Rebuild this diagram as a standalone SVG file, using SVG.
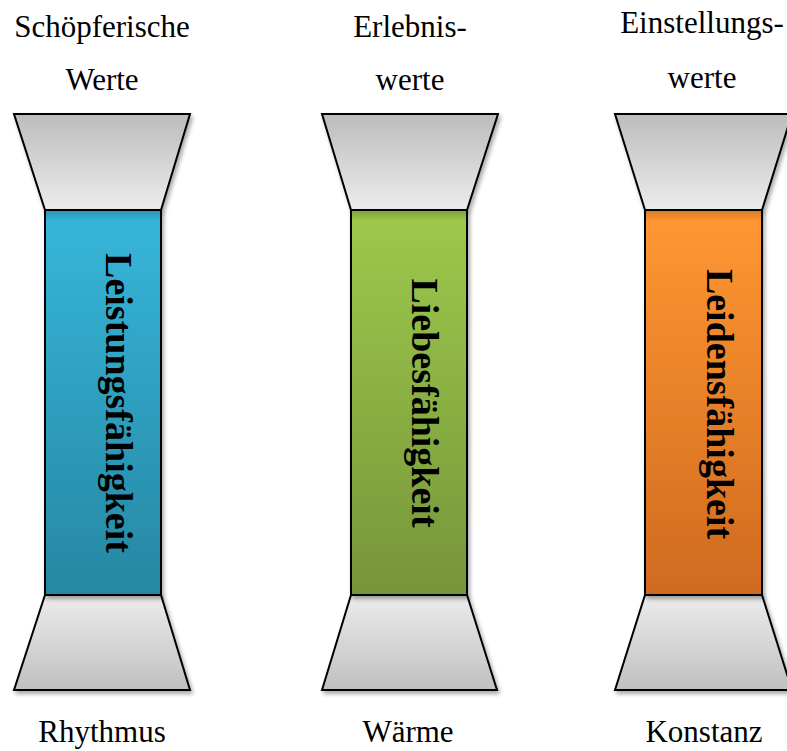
<svg xmlns="http://www.w3.org/2000/svg" width="787" height="751" viewBox="0 0 787 751">
  <defs>
    <linearGradient id="gTop" x1="0" y1="0" x2="0" y2="1">
      <stop offset="0" stop-color="#bcbcbc"/>
      <stop offset="1" stop-color="#ececec"/>
    </linearGradient>
    <linearGradient id="gBot" x1="0" y1="0" x2="0" y2="1">
      <stop offset="0" stop-color="#ececec"/>
      <stop offset="1" stop-color="#c0c0c0"/>
    </linearGradient>
    <linearGradient id="gBlue" x1="0" y1="0" x2="0" y2="1">
      <stop offset="0" stop-color="#2b95b3"/>
      <stop offset="0.03" stop-color="#36b5d9"/>
      <stop offset="1" stop-color="#2687a2"/>
    </linearGradient>
    <linearGradient id="gGreen" x1="0" y1="0" x2="0" y2="1">
      <stop offset="0" stop-color="#7fa33d"/>
      <stop offset="0.03" stop-color="#9cc84b"/>
      <stop offset="1" stop-color="#76953a"/>
    </linearGradient>
    <linearGradient id="gOrange" x1="0" y1="0" x2="0" y2="1">
      <stop offset="0" stop-color="#d77a26"/>
      <stop offset="0.03" stop-color="#ff9632"/>
      <stop offset="1" stop-color="#cf6a1f"/>
    </linearGradient>
    <filter id="shadow" x="-10%" y="-10%" width="130%" height="130%">
      <feGaussianBlur in="SourceAlpha" stdDeviation="2"/>
      <feOffset dx="2" dy="3" result="b"/>
      <feComponentTransfer><feFuncA type="linear" slope="0.35"/></feComponentTransfer>
      <feMerge><feMergeNode/><feMergeNode in="SourceGraphic"/></feMerge>
    </filter>
  </defs>
  <style>
    .shape { stroke: #000; stroke-width: 2; stroke-linejoin: miter; filter: url(#shadow); }
    .lbl { font-family: "Liberation Serif", "Times New Roman", serif; font-size: 31px; fill: #000; text-anchor: middle; }
    .vert { font-family: "Liberation Serif", "Times New Roman", serif; font-size: 38px; font-weight: bold; fill: #000; text-anchor: middle; }
  </style>

  <!-- Column 1: Schöpferische Werte -->
  <g id="col1">
    <text class="lbl" x="102" y="37">Schöpferische</text>
    <text class="lbl" x="102" y="90">Werte</text>
    <polygon class="shape" points="14,114 190,114 161,210 45,210" fill="url(#gTop)"/>
    <polygon class="shape" points="45,595 161,595 190,690 14,690" fill="url(#gBot)"/>
    <rect class="shape" x="45" y="210" width="116" height="385" fill="url(#gBlue)"/>
    <text class="vert" transform="translate(106,403) rotate(90)">Leistungsfähigkeit</text>
    <text class="lbl" x="102" y="742">Rhythmus</text>
  </g>

  <!-- Column 2: Erlebniswerte -->
  <g id="col2">
    <text class="lbl" x="410" y="37">Erlebnis-</text>
    <text class="lbl" x="410" y="90">werte</text>
    <polygon class="shape" points="322,114 498,114 467,210 351,210" fill="url(#gTop)"/>
    <polygon class="shape" points="351,595 467,595 497,690 322,690" fill="url(#gBot)"/>
    <rect class="shape" x="351" y="210" width="116" height="385" fill="url(#gGreen)"/>
    <text class="vert" transform="translate(412,403) rotate(90)">Liebesfähigkeit</text>
    <text class="lbl" x="408" y="742">Wärme</text>
  </g>

  <!-- Column 3: Einstellungswerte -->
  <g id="col3">
    <text class="lbl" x="702" y="33">Einstellungs-</text>
    <text class="lbl" x="702" y="88">werte</text>
    <polygon class="shape" points="615,114 792,114 762,210 645,210" fill="url(#gTop)"/>
    <polygon class="shape" points="645,595 762,595 792,690 615,690" fill="url(#gBot)"/>
    <rect class="shape" x="645" y="210" width="117" height="385" fill="url(#gOrange)"/>
    <text class="vert" transform="translate(707,404) rotate(90)">Leidensfähigkeit</text>
    <text class="lbl" x="704" y="742">Konstanz</text>
  </g>

  <g id="connectors"/>
</svg>
